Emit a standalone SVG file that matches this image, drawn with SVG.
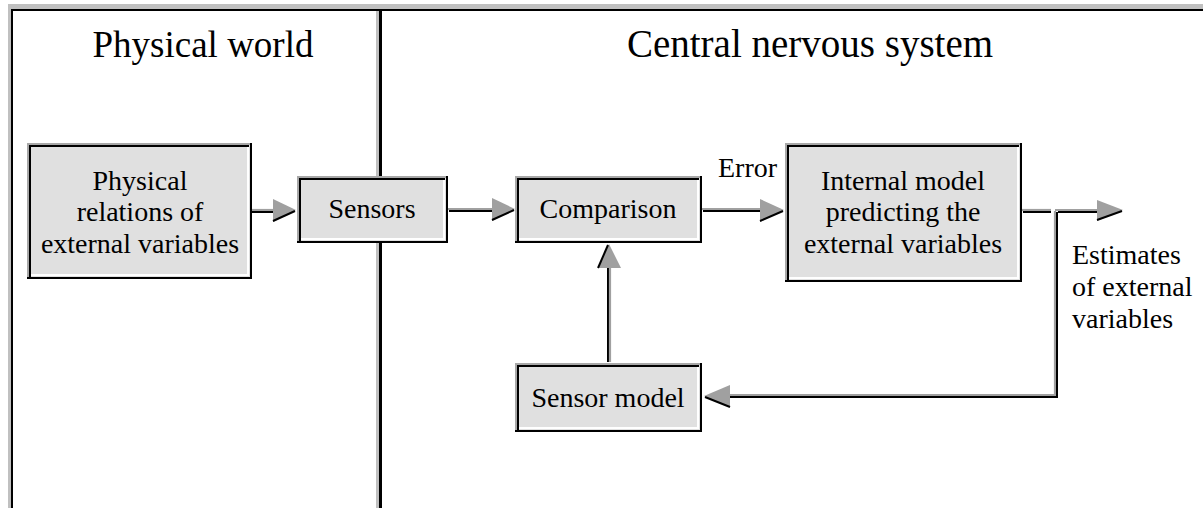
<svg xmlns="http://www.w3.org/2000/svg" width="1203" height="508" viewBox="0 0 1203 508" font-family="'Liberation Serif', 'Times New Roman', 'DejaVu Serif', serif">
<style>
text{font-family:'Liberation Serif','Times New Roman','DejaVu Serif',serif;fill:#000}
.title{font-size:37px;text-anchor:middle}
.lbl{font-size:28px;text-anchor:middle}
.free{font-size:28px}
.fill{fill:#e0e0e0}
.gr{fill:none;stroke:#a8a8a8;stroke-width:2}
.bk{fill:none;stroke:#000;stroke-width:2}
.wh{fill:none;stroke:#fff;stroke-width:2}
.cg{fill:none;stroke:#a0a0a0;stroke-width:2.2}
.cb{fill:none;stroke:#000;stroke-width:2}
.ah{fill:#a0a0a0}
</style>
<rect width="1203" height="508" fill="#fff"/>
<g id="frame">
<rect x="8" y="4" width="1195" height="5" fill="#c0c0c0"/>
<rect x="8" y="4" width="3" height="504" fill="#c0c0c0"/>
<rect x="11" y="9" width="1192" height="2" fill="#000"/>
<rect x="11" y="9" width="2" height="499" fill="#000"/>
<rect x="376" y="11" width="3" height="497" fill="#c0c0c0"/>
<rect x="379" y="9" width="3" height="499" fill="#000"/>
</g>
<g id="titles">
<text class="title" x="203" y="57">Physical world</text>
<text class="title" x="810" y="57" style="font-size:39px">Central nervous system</text>
</g>
<g id="connectors">
<path class="cg" d="M250 210 H274"/><path class="cb" d="M252 212 H274"/>
<polygon class="ah" points="273,199 296,210 273,222"/><path class="cb" d="M273 221 L295 211"/>
<path class="cg" d="M447 209 H493"/><path class="cb" d="M449 211 H493"/>
<polygon class="ah" points="492,198 515,209 492,221"/><path class="cb" d="M492 220 L514 210"/>
<path class="cg" d="M701 209 H761"/><path class="cb" d="M703 211 H761"/>
<polygon class="ah" points="760,199 784,210 760,222"/><path class="cb" d="M760 221 L783 211"/>
<path class="cg" d="M1021 210 H1051"/><path class="cb" d="M1023 212 H1051"/>
<path class="cg" d="M1055 210 H1098"/><path class="cb" d="M1058 212 H1098"/>
<polygon class="ah" points="1097,200 1123,210 1097,221"/><path class="cb" d="M1097 220 L1122 211"/>
<path class="cg" d="M1055 211 V395 H729"/><path class="cb" d="M1057 212 V397 H729"/>
<polygon class="ah" points="730,385 704,396 730,407"/><path class="cb" d="M730 407 L705 397"/>
<path class="cb" d="M608 362 V266"/><path class="cg" d="M610 362 V266"/>
<polygon class="ah" points="598,268 609,244 621,268"/><path class="cb" d="M598 268 L608 245"/>
</g>
<g id="box-physical">
<rect class="fill" x="27" y="143" width="225" height="136"/>
<path class="gr" d="M28 279 V144 H252"/><path class="bk" d="M251 143 V278 H27"/>
<path class="bk" d="M30 277 V146 H249"/><path class="wh" d="M248 147 V275 H31"/>
<text class="lbl" x="140" y="190">Physical</text>
<text class="lbl" x="140" y="221">relations of</text>
<text class="lbl" x="140" y="253">external variables</text>
</g>
<g id="box-sensors">
<rect class="fill" x="297" y="176" width="151" height="67"/>
<path class="gr" d="M298 243 V177 H448"/><path class="bk" d="M447 176 V242 H297"/>
<path class="bk" d="M300 241 V179 H445"/><path class="wh" d="M444 180 V239 H301"/>
<text class="lbl" x="372" y="218">Sensors</text>
</g>
<g id="box-comparison">
<rect class="fill" x="515" y="176" width="187" height="67"/>
<path class="gr" d="M516 243 V177 H702"/><path class="bk" d="M701 176 V242 H515"/>
<path class="bk" d="M518 241 V179 H699"/><path class="wh" d="M698 180 V239 H519"/>
<text class="lbl" x="608" y="218">Comparison</text>
</g>
<g id="box-internal">
<rect class="fill" x="785" y="143" width="237" height="139"/>
<path class="gr" d="M786 282 V144 H1022"/><path class="bk" d="M1021 143 V281 H785"/>
<path class="bk" d="M788 280 V146 H1019"/><path class="wh" d="M1018 147 V278 H789"/>
<text class="lbl" x="903" y="190">Internal model</text>
<text class="lbl" x="903" y="221">predicting the</text>
<text class="lbl" x="903" y="253">external variables</text>
</g>
<g id="box-sensormodel">
<rect class="fill" x="515" y="363" width="187" height="69"/>
<path class="gr" d="M516 432 V364 H702"/><path class="bk" d="M701 363 V431 H515"/>
<path class="bk" d="M518 430 V366 H699"/><path class="wh" d="M698 367 V428 H519"/>
<text class="lbl" x="608" y="407">Sensor model</text>
</g>
<g id="labels">
<text class="free" x="718" y="177">Error</text>
<text class="free" x="1072" y="264">Estimates</text>
<text class="free" x="1072" y="296">of external</text>
<text class="free" x="1072" y="328">variables</text>
</g>
</svg>
